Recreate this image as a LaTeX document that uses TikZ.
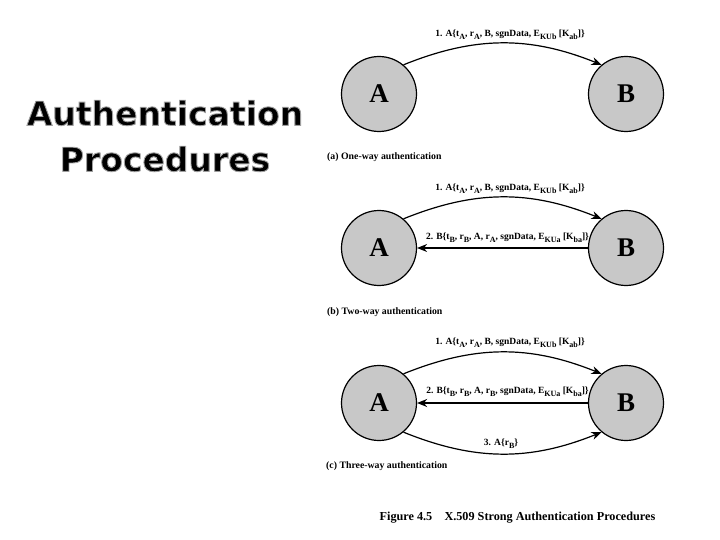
\documentclass[tikz,border=0pt]{standalone}
\usepackage{fontspec}
\setmainfont{Liberation Serif}
\newfontfamily\titlefont{DejaVu Sans}[BoldFont={DejaVu Sans Bold}]
\usetikzlibrary{arrows.meta}
\definecolor{partyfill}{RGB}{200,200,200}
\newcommand{\halo}[1]{\special{pdf:literal direct q 2 Tr 0.9 w 0.62 G}#1\special{pdf:literal direct Q 0 Tr}}
\newcommand{\sbs}[1]{\raisebox{-0.28em}{\fontsize{8}{8}\selectfont #1}}
\tikzset{
  x=1pt,y=-1pt,
  party/.style={circle,draw=black,line width=1.2pt,fill=partyfill,minimum size=75pt,inner sep=0pt,font=\fontsize{27}{27}\selectfont\bfseries},
  msg/.style={font=\fontsize{9.5}{12}\selectfont\bfseries,inner sep=0pt},
  caption/.style={font=\fontsize{9.8}{12}\selectfont\bfseries,inner sep=0pt,anchor=west},
  link/.style={draw=black,line width=1.2pt,-{Stealth[length=10pt,width=8pt]}},
  headline/.style={font=\fontsize{33}{46}\selectfont\titlefont\bfseries,align=center,inner sep=0pt},
}
\begin{document}
\begin{tikzpicture}
\useasboundingbox (0,0) rectangle (720,540);
\fill[white] (0,0) rectangle (720,540);
% title
\node[headline,text=black] (title) at (165,136) {\halo{Authentication}\\\halo{Procedures}};
% (a)
\node[party] (a1) at (379,94) {A};
\node[party] (b1) at (626,94) {B};
\draw[link] (a1.50) to[out=22,in=158] (b1.130);
\node[msg] (m1a) at (510,35) {1. A\{t\sbs{A}, r\sbs{A}, B, sgnData, E\sbs{KUb} [K\sbs{ab}]\}};
\node[caption] (capa) at (327,157) {(a) One-way authentication};
% (b)
\node[party] (a2) at (379,248) {A};
\node[party] (b2) at (626,248) {B};
\draw[link] (a2.50) to[out=22,in=158] (b2.130);
\draw[link] (b2.west) -- (a2.east);
\node[msg] (m1b) at (510,189) {1. A\{t\sbs{A}, r\sbs{A}, B, sgnData, E\sbs{KUb} [K\sbs{ab}]\}};
\node[msg] (m2b) at (507.5,238) {2. B\{t\sbs{B}, r\sbs{B}, A, r\sbs{A}, sgnData, E\sbs{KUa} [K\sbs{ba}]\}};
\node[caption] (capb) at (327,312) {(b) Two-way authentication};
% (c)
\node[party] (a3) at (379,403) {A};
\node[party] (b3) at (626,403) {B};
\draw[link] (a3.50) to[out=22,in=158] (b3.130);
\draw[link,line width=1.6pt] (b3.west) -- (a3.east);
\draw[link] (a3.-50) to[out=-22,in=-158] (b3.-130);
\node[msg] (m1c) at (510,343) {1. A\{t\sbs{A}, r\sbs{A}, B, sgnData, E\sbs{KUb} [K\sbs{ab}]\}};
\node[msg] (m2c) at (507.5,392) {2. B\{t\sbs{B}, r\sbs{B}, A, r\sbs{B}, sgnData, E\sbs{KUa} [K\sbs{ba}]\}};
\node[msg] (m3c) at (501,444) {3. A\{r\sbs{B}\}};
\node[caption] (capc) at (326,466) {(c) Three-way authentication};
% figure caption
\node[font=\fontsize{12.2}{14}\selectfont\bfseries,inner sep=0pt] (figcap) at (517.5,518) {Figure 4.5\hspace{1em}X.509 Strong Authentication Procedures};
\end{tikzpicture}
\end{document}
